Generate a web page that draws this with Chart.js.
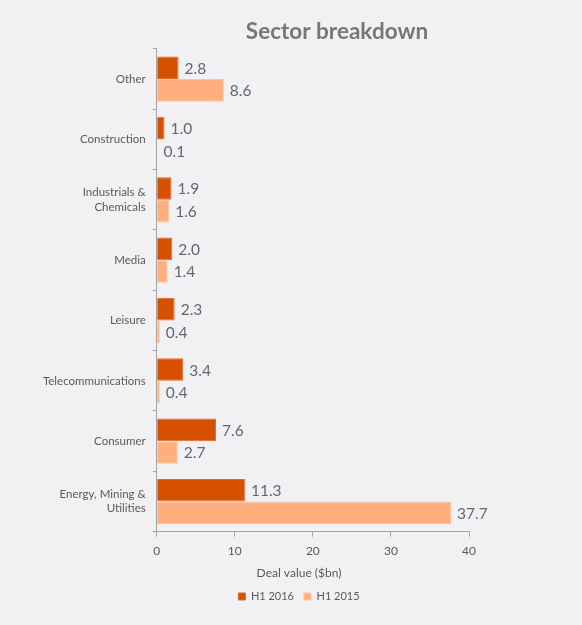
<!DOCTYPE html>
<html><head><meta charset="utf-8">
<script src="https://cdn.jsdelivr.net/npm/chart.js@4.4.1/dist/chart.umd.min.js"></script>
<style>
html,body{margin:0;padding:0;background:#f1f1f3;}
#wrap{position:absolute;left:0;top:0;width:582px;height:625px;}
</style></head><body>
<div id="wrap"><canvas id="c"></canvas></div>
<script>
const categories = ['Other', 'Construction', ['Industrials &', 'Chemicals'], 'Media', 'Leisure', 'Telecommunications', 'Consumer', ['Energy, Mining &', 'Utilities']];
const seriesNames = ['H1 2016', 'H1 2015'];
const h1_2016 = [2.8, 1.0, 1.9, 2.0, 2.3, 3.4, 7.6, 11.3];
const h1_2015 = [8.6, 0.1, 1.6, 1.4, 0.4, 0.4, 2.7, 37.7];
const xTicks = [0, 10, 20, 30, 40];
const chartTitle = 'Sector breakdown';
const axisTitle = 'Deal value ($bn)';

const FONT = 'Lato';
const AXIS_COLOR = '#a3a3a3';
const TEXT_COLOR = '#5a5a5a';

const dataLabels = {
  id: 'dataLabels',
  afterDatasetsDraw(chart) {
    const ctx = chart.ctx;
    ctx.save();
    ctx.font = '15.5px ' + FONT;
    ctx.fillStyle = '#666670';
    ctx.textAlign = 'left';
    ctx.textBaseline = 'middle';
    chart.data.datasets.forEach((ds, i) => {
      const meta = chart.getDatasetMeta(i);
      meta.data.forEach((el, j) => {
        ctx.fillText(ds.data[j].toFixed(1), el.x + 6, el.y + 1);
      });
    });
    ctx.restore();
  }
};

const titleShift = {
  id: 'titleShift',
  afterLayout(chart) {
    const t = chart.titleBlock;
    if (t) { t.left += 38; t.right += 38; }
  }
};

new Chart(document.getElementById('c'), {
  type: 'bar',
  data: {
    labels: categories,
    datasets: [
      { label: seriesNames[0], data: h1_2016, backgroundColor: '#D55000', borderColor: '#DF6A24', borderWidth: 1,
        categoryPercentage: 0.75, barPercentage: 1.0 },
      { label: seriesNames[1], data: h1_2015, backgroundColor: '#FFAF7D', borderColor: '#FFC29C', borderWidth: 1,
        categoryPercentage: 0.75, barPercentage: 1.0 }
    ]
  },
  options: {
    indexAxis: 'y',
    responsive: true,
    maintainAspectRatio: false,
    animation: false,
    layout: { padding: { left: 16, right: 0, top: 0, bottom: 13 } },
    scales: {
      x: {
        type: 'linear', position: 'bottom', min: 0, max: 40,
        afterBuildTicks: s => { s.ticks = xTicks.map(v => ({ value: v })); },
        grid: { display: true, drawOnChartArea: false, tickLength: 5, color: AXIS_COLOR },
        border: { display: true, color: AXIS_COLOR },
        ticks: { font: { family: FONT, size: 12 }, color: TEXT_COLOR, padding: 7 }
      },
      y: {
        position: 'left',
        grid: { display: true, drawOnChartArea: false, tickLength: 4, color: AXIS_COLOR, offset: true },
        border: { display: true, color: AXIS_COLOR },
        ticks: { font: { family: FONT, size: 11.5, lineHeight: 1.25 }, color: TEXT_COLOR, padding: 7 },
        afterFit: s => { s.width = 140.7; }
      },
      yR: {
        type: 'linear', position: 'right', display: true,
        grid: { display: false }, border: { display: false }, ticks: { display: false },
        afterFit: s => { s.width = 113; }
      }
    },
    plugins: {
      title: {
        display: true, text: chartTitle, color: '#777777',
        font: { family: FONT, size: 22.5, weight: 'bold' },
        padding: { top: 18.5, bottom: 3.4 }
      },
      subtitle: {
        display: true, text: axisTitle, position: 'bottom', weight: 500,
        color: TEXT_COLOR, font: { family: FONT, size: 12 },
        padding: { top: 1, bottom: 0.5 }
      },
      legend: {
        display: true, position: 'bottom',
        labels: { boxWidth: 7, boxHeight: 7, padding: 10, color: TEXT_COLOR, font: { family: FONT, size: 11 } }
      },
      tooltip: { enabled: false }
    }
  },
  plugins: [dataLabels, titleShift]
});
</script>
</body></html>
